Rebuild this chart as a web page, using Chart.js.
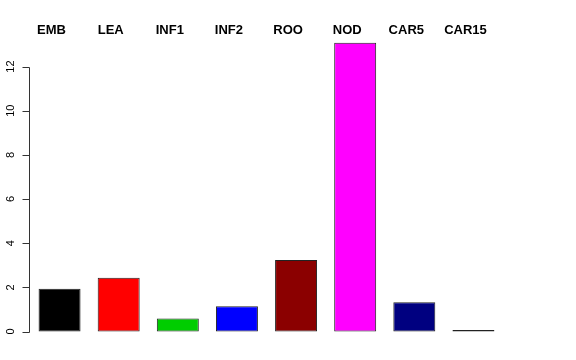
<!DOCTYPE html>
<html>
<head>
<meta charset="utf-8">
<script src="https://cdn.jsdelivr.net/npm/chart.js@4"></script>
<style>
  html, body { margin: 0; padding: 0; background: #fff; }
  #wrap { width: 576px; height: 360px; }
</style>
</head>
<body>
<div id="wrap"><canvas id="barChart"></canvas></div>
<script>
const categories = ["EMB", "LEA", "INF1", "INF2", "ROO", "NOD", "CAR5", "CAR15"];
const values = [1.94, 2.44, 0.59, 1.14, 3.24, 13.08, 1.33, 0.01];
const barColors = ["#000000", "#FF0000", "#00CD00", "#0000FF", "#8B0000", "#FF00FF", "#000080", "#BEBEBE"];
const yTicks = [0, 2, 4, 6, 8, 10, 12];

// R-style axis: line only between first and last tick, rotated labels, plus names on top
const rAxis = {
  id: "rAxis",
  afterDraw(c) {
    const ctx = c.ctx;
    const y = c.scales.y, x = c.scales.x;
    const ax = c.chartArea.left - 0.5;
    ctx.save();
    ctx.strokeStyle = "#333";
    ctx.lineWidth = 1;
    ctx.beginPath();
    ctx.moveTo(ax, Math.round(y.getPixelForValue(yTicks[0])) + 0.5);
    ctx.lineTo(ax, Math.round(y.getPixelForValue(yTicks[yTicks.length - 1])) + 0.5);
    yTicks.forEach(t => {
      const py = Math.round(y.getPixelForValue(t)) + 0.5;
      ctx.moveTo(ax, py);
      ctx.lineTo(ax - 7, py);
    });
    ctx.stroke();

    ctx.fillStyle = "#000";
    ctx.font = "11px 'Liberation Sans', Arial, sans-serif";
    ctx.textAlign = "center";
    ctx.textBaseline = "alphabetic";
    yTicks.forEach(t => {
      ctx.save();
      ctx.translate(14, y.getPixelForValue(t));
      ctx.rotate(-Math.PI / 2);
      ctx.fillText(String(t), 0, 0);
      ctx.restore();
    });

    ctx.font = "bold 13px 'Liberation Sans', Arial, sans-serif";
    categories.forEach((name, i) => {
      ctx.fillText(name, x.getPixelForValue(i) - 8, 33.5);
    });
    ctx.restore();
  }
};

const ctx = document.getElementById("barChart").getContext("2d");
new Chart(ctx, {
  type: "bar",
  data: {
    labels: categories,
    datasets: [{
      data: values,
      backgroundColor: barColors,
      borderColor: "#222",
      borderWidth: 1,
      borderSkipped: false,
      minBarLength: 1.5,
      barPercentage: 0.71,
      categoryPercentage: 1
    }]
  },
  options: {
    responsive: true,
    maintainAspectRatio: false,
    animation: false,
    layout: { padding: { left: 30, top: 31, right: 73, bottom: 17 } },
    plugins: { legend: { display: false }, tooltip: { enabled: false } },
    scales: {
      x: { display: false, offset: true },
      y: { display: false, min: -0.52, max: 13.61 }
    }
  },
  plugins: [rAxis]
});
</script>
</body>
</html>
